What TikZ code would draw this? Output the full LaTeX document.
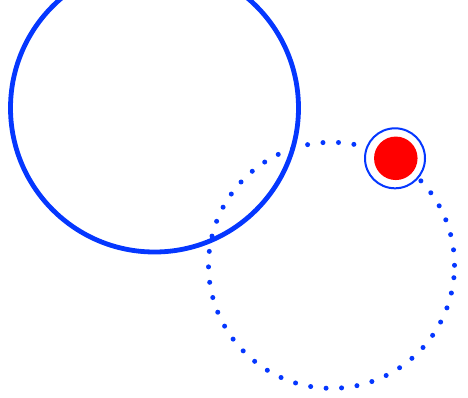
\documentclass[tikz,border=0pt]{standalone}
\definecolor{myblue}{RGB}{5,55,255}
\definecolor{myred}{RGB}{255,0,0}
\tikzset{
  bigring/.style={circle, draw=myblue, line width=4.8pt, minimum size=288pt, inner sep=0pt},
  dotring/.style={circle, draw=myblue, line width=5pt, line cap=round, dash pattern=on 0pt off 15.52pt, minimum size=246pt, inner sep=0pt},
  ballring/.style={circle, draw=myblue, line width=2pt, fill=white, minimum size=60pt, inner sep=0pt},
  ball/.style={circle, fill=myred, minimum size=43.5pt, inner sep=0pt}
}
\begin{document}
\begin{tikzpicture}[x=1pt,y=-1pt]
\useasboundingbox (0,0) rectangle (468,397);
\node[dotring] (orbit) at (331.5,265.3) {};
\node[bigring] (big) at (154.5,108) {};
\node[ballring] (ring) at (395,158.3) {};
\node[ball] (dot) at (395.8,158.3) {};
\end{tikzpicture}
\end{document}
